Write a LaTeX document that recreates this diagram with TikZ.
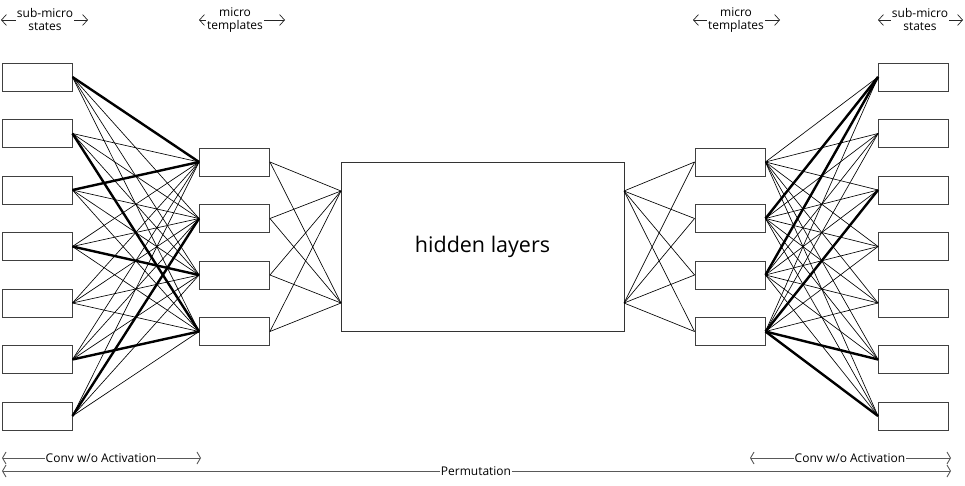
\documentclass[tikz,border=0pt]{standalone}
\usepackage{fontspec}
\setmainfont{Open Sans}
\usetikzlibrary{arrows.meta}
\begin{document}
\begin{tikzpicture}[x=1pt,y=-1pt,
  box/.style={draw=black!75,line width=0.9pt,fill=white,minimum width=70pt,minimum height=28pt,inner sep=0pt},
  hidbox/.style={draw=black!80,line width=0.9pt,fill=white,minimum width=283pt,minimum height=169pt,inner sep=0pt,font=\fontsize{21.5}{26}\selectfont},
  thinln/.style={line width=0.65pt,black},
  thickln/.style={line width=2.4pt,black},
  lbl/.style={align=center,inner sep=1pt,font=\fontsize{12}{13}\selectfont},
  blbl/.style={inner sep=0.5pt,font=\fontsize{12}{13}\selectfont},
  arr/.style={line width=0.7pt,black!85,-{Straight Barb[length=5pt,width=11pt]}},
  barr/.style={line width=0.9pt,black!65,-{Straight Barb[length=3.5pt,width=12pt]}}
]
\useasboundingbox (0,0) rectangle (965,486);

% boxes
\foreach \i in {1,...,7}{
  \node[box] (s\i) at (37,{77+56.5*(\i-1)}) {};
  \node[box] (r\i) at (913.5,{77+56.5*(\i-1)}) {};
}
\foreach \j in {1,...,4}{
  \node[box] (m\j) at (234.5,{162+56.5*(\j-1)}) {};
  \node[box] (n\j) at (730,{162+56.5*(\j-1)}) {};
}
\node[hidbox] (hid) at (482.5,246.5) {hidden layers};
\coordinate (hl1) at (341,191);
\coordinate (hl2) at (341,303);
\coordinate (hr1) at (624,191);
\coordinate (hr2) at (624,303);

% full connections
\foreach \i in {1,...,7}{
  \foreach \j in {1,...,4}{
    \draw[thinln] (s\i.east) -- (m\j.west);
    \draw[thinln] (n\j.east) -- (r\i.west);
  }
}
\foreach \i/\j in {1/1,3/1,7/2,4/3,2/4,6/4}
  \draw[thickln] (s\i.east) -- (m\j.west);
\foreach \i/\j in {1/2,1/3,3/4,6/4,7/4}
  \draw[thickln] (n\j.east) -- (r\i.west);

% micro to hidden
\foreach \j in {1,...,4}{
  \draw[thinln] (m\j.east) -- (hl1);
  \draw[thinln] (m\j.east) -- (hl2);
  \draw[thinln] (hr1) -- (n\j.west);
  \draw[thinln] (hr2) -- (n\j.west);
}

% top labels
\node[lbl] (t1) at (45,20) {sub-micro\\states};
\coordinate (t1a) at (1,20); \coordinate (t1b) at (88,20);
\draw[arr] (t1.west) -- (t1a);
\draw[arr] (t1.east) -- (t1b);

\node[lbl] (t2) at (235,20) {micro\\templates};
\coordinate (t2a) at (199,20); \coordinate (t2b) at (285,20);
\draw[arr] (t2.west) -- (t2a);
\draw[arr] (t2.east) -- (t2b);

\node[lbl] (t3) at (736,20) {micro\\templates};
\coordinate (t3a) at (693,20); \coordinate (t3b) at (780,20);
\draw[arr] (t3.west) -- (t3a);
\draw[arr] (t3.east) -- (t3b);

\node[lbl] (t4) at (920,20) {sub-micro\\states};
\coordinate (t4a) at (878,20); \coordinate (t4b) at (963,20);
\draw[arr] (t4.west) -- (t4a);
\draw[arr] (t4.east) -- (t4b);

% bottom labels
\node[blbl] (b1) at (101,458) {Conv w/o Activation};
\coordinate (b1a) at (2,458); \coordinate (b1b) at (201,458);
\draw[barr] (b1.west) -- (b1a);
\draw[barr] (b1.east) -- (b1b);

\node[blbl] (b2) at (850,458) {Conv w/o Activation};
\coordinate (b2a) at (750,458); \coordinate (b2b) at (951,458);
\draw[barr] (b2.west) -- (b2a);
\draw[barr] (b2.east) -- (b2b);

\node[blbl] (b3) at (476,471) {Permutation};
\coordinate (b3a) at (2,471); \coordinate (b3b) at (951,471);
\draw[barr] (b3.west) -- (b3a);
\draw[barr] (b3.east) -- (b3b);
\end{tikzpicture}
\end{document}
